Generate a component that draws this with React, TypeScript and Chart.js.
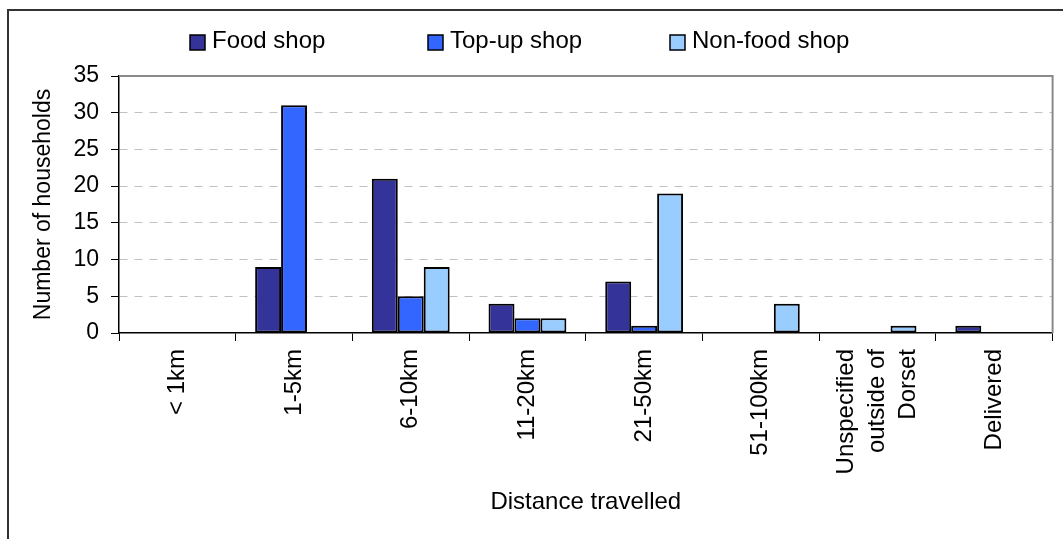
import React, { useEffect, useRef } from "react";
import { Chart, registerables } from "chart.js";

Chart.register(...registerables);

const categories: (string | string[])[] = [
  "< 1km",
  "1-5km",
  "6-10km",
  "11-20km",
  "21-50km",
  "51-100km",
  ["Unspecified", "outside of", "Dorset"],
  "Delivered",
];

const foodShop = [0, 9, 21, 4, 7, 0, 0, 1];
const topUpShop = [0, 31, 5, 2, 1, 0, 0, 0];
const nonFoodShop = [0, 0, 9, 2, 19, 4, 1, 0];

const yTicks = [0, 5, 10, 15, 20, 25, 30, 35];

const seriesNames = ["Food shop", "Top-up shop", "Non-food shop"];
const seriesColors = ["#333399", "#3366FF", "#99CCFF"];

const FONT = '"Liberation Sans", Arial, sans-serif';

const plotFramePlugin = {
  id: "plotFrame",
  beforeDatasetsDraw(chart: any) {
    const { ctx, chartArea } = chart;
    ctx.save();
    ctx.strokeStyle = "#8a8a8a";
    ctx.lineWidth = 2;
    ctx.beginPath();
    ctx.moveTo(chartArea.left, chartArea.top);
    ctx.lineTo(chartArea.right, chartArea.top);
    ctx.lineTo(chartArea.right, chartArea.bottom);
    ctx.stroke();
    ctx.restore();
  },
};

const xLabelsPlugin = {
  id: "xLabels",
  afterDraw(chart: any) {
    const { ctx } = chart;
    const xs = chart.scales.x;
    const labels = chart.data.labels as (string | string[])[];
    const lh = 31;
    ctx.save();
    ctx.font = `24px ${FONT}`;
    ctx.fillStyle = "#000";
    ctx.textAlign = "right";
    ctx.textBaseline = "middle";
    labels.forEach((lab, i) => {
      const lines = Array.isArray(lab) ? lab : [lab];
      const x = xs.getPixelForValue(i);
      ctx.save();
      ctx.translate(x, xs.top + 16);
      ctx.rotate(-Math.PI / 2);
      lines.forEach((ln, j) => {
        ctx.fillText(ln, 0, (j - (lines.length - 1) / 2) * lh);
      });
      ctx.restore();
    });
    ctx.restore();
  },
};

const legendPlugin = {
  id: "customLegend",
  afterDraw(chart: any) {
    const { ctx } = chart;
    const starts = [190, 428, 670];
    ctx.save();
    ctx.font = `24px ${FONT}`;
    ctx.textBaseline = "alphabetic";
    ctx.textAlign = "left";
    chart.data.datasets.forEach((ds: any, i: number) => {
      const bx = starts[i];
      ctx.fillStyle = ds.backgroundColor;
      ctx.fillRect(bx, 35, 15, 15);
      ctx.strokeStyle = "#000";
      ctx.lineWidth = 1.5;
      ctx.strokeRect(bx, 35, 15, 15);
      ctx.fillStyle = "#000";
      ctx.fillText(ds.label, bx + 22, 48);
    });
    ctx.restore();
  },
};

export default function App() {
  const ref = useRef<HTMLCanvasElement | null>(null);

  useEffect(() => {
    if (!ref.current) return;
    const chart = new Chart(ref.current, {
      type: "bar",
      data: {
        labels: categories,
        datasets: [foodShop, topUpShop, nonFoodShop].map((d, i) => ({
          label: seriesNames[i],
          data: d,
          backgroundColor: seriesColors[i],
          borderColor: "#000",
          borderWidth: 2,
          borderSkipped: false,
          categoryPercentage: 0.667,
          barPercentage: 1,
        })),
      },
      options: {
        responsive: false,
        animation: false,
        devicePixelRatio: 1,
        layout: { padding: { top: 76, right: 10.4, bottom: 0, left: 0 } },
        plugins: {
          legend: { display: false },
          tooltip: { enabled: false },
        },
        scales: {
          x: {
            grid: {
              offset: true,
              drawOnChartArea: false,
              drawTicks: true,
              tickLength: 8,
              tickColor: "#000",
              tickWidth: 1,
            },
            border: { color: "#000", width: 1.5 },
            ticks: { display: false },
            title: {
              display: true,
              text: "Distance travelled",
              color: "#000",
              font: { family: FONT, size: 24 },
              padding: { top: 0, bottom: 22 },
            },
            afterFit(s: any) {
              s.height = 206;
            },
          },
          y: {
            min: 0,
            max: 35,
            afterBuildTicks(s: any) {
              s.ticks = yTicks.map((v) => ({ value: v }));
            },
            ticks: {
              color: "#000",
              font: { family: FONT, size: 23 },
              padding: 12,
            },
            grid: {
              color: (c: any) =>
                c.tick && (c.tick.value === 0 || c.tick.value === 35)
                  ? "rgba(0,0,0,0)"
                  : "#c0c0c0",
              lineWidth: 1,
              tickLength: 8,
              tickColor: "#000",
              tickWidth: 1,
              tickBorderDash: [],
            },
            border: { color: "#000", width: 1.5, dash: [8, 7] },
            title: {
              display: true,
              text: "Number of households",
              color: "#000",
              font: { family: FONT, size: 23 },
              padding: { top: 30.2, bottom: 0 },
            },
            afterFit(s: any) {
              s.width = 119;
            },
          },
        },
      },
      plugins: [plotFramePlugin, xLabelsPlugin, legendPlugin],
    });
    return () => chart.destroy();
  }, []);

  return (
    <div
      style={{
        position: "fixed",
        left: 0,
        top: 0,
        width: 1063,
        height: 539,
        overflow: "hidden",
        background: "#fff",
      }}
    >
      <div
        style={{
          position: "absolute",
          left: 7,
          top: 9,
          width: 2000,
          height: 2000,
          borderLeft: "2px solid #333",
          borderTop: "2px solid #333",
        }}
      />
      <canvas
        ref={ref}
        width={1063}
        height={539}
        style={{ position: "absolute", left: 0, top: 0, width: 1063, height: 539 }}
      />
    </div>
  );
}
